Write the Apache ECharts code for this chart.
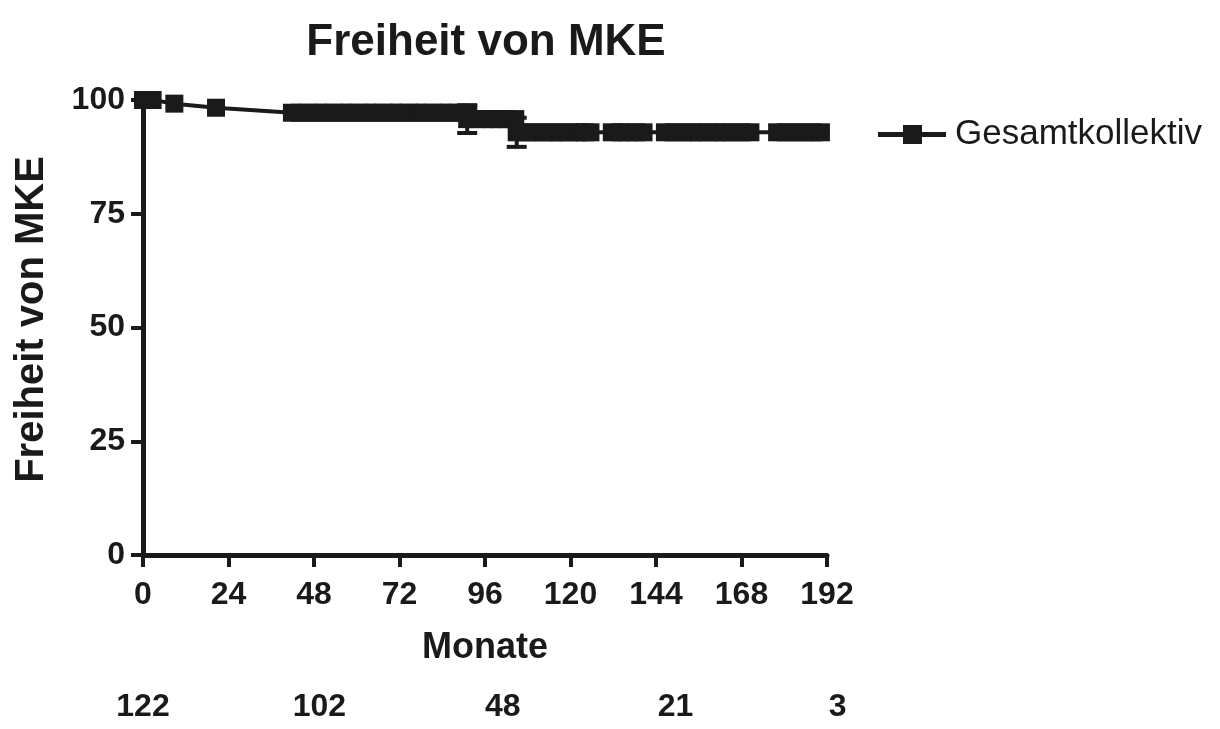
<!DOCTYPE html>
<html>
<head>
<meta charset="utf-8">
<script src="https://cdn.jsdelivr.net/npm/echarts@6/dist/echarts.min.js"></script>
<style>
html,body{margin:0;padding:0;background:#fff;}
#main{width:1220px;height:729px;}
</style>
</head>
<body>
<div id="main"></div>
<script>
// ---- data ----
const seriesName = 'Gesamtkollektiv';
const months = [0, 2.7, 8.8, 20.5, 41.8, 44, 46.5, 49, 51, 53.5, 56, 58, 60.5, 63, 65, 67.5, 70, 72, 74.5, 77, 79, 81.5, 84, 86, 88.5, 91.3,
  91, 93.5, 96, 98, 100, 102, 104.5,
  104.9, 107.7, 110, 112.5, 115, 117, 119.5, 122, 124, 125.6,
  131.6, 134, 136, 138.5, 140.5,
  146.5, 149, 151.5, 154, 156, 158.5, 161, 163, 165.5, 168, 170.5,
  178, 180.5, 183, 185.5, 188, 190.3];
const survival = [100, 100, 99.2, 98.3, 97.2, 97.2, 97.2, 97.2, 97.2, 97.2, 97.2, 97.2, 97.2, 97.2, 97.2, 97.2, 97.2, 97.2, 97.2, 97.2, 97.2, 97.2, 97.2, 97.2, 97.2, 97.2,
  95.8, 95.8, 95.8, 95.8, 95.8, 95.8, 95.8,
  92.9, 92.9, 92.9, 92.9, 92.9, 92.9, 92.9, 92.9, 92.9, 92.9,
  92.9, 92.9, 92.9, 92.9, 92.9,
  92.9, 92.9, 92.9, 92.9, 92.9, 92.9, 92.9, 92.9, 92.9, 92.9, 92.9,
  92.9, 92.9, 92.9, 92.9, 92.9, 92.9];
const errMonths = [91, 104.9];
const errLow = [92.75, 89.7];
const errHigh = [98.85, 96.1];
const xTicks = [0, 24, 48, 72, 96, 120, 144, 168, 192];
const atRiskMonths = [0, 49.5, 101, 149.5, 195];
const atRiskCounts = [122, 102, 48, 21, 3];

// ---- chart ----
const C = '#1a1a1a';
const FONT = "'Liberation Sans', Arial, Helvetica, sans-serif";
const chart = echarts.init(document.getElementById('main'), null, {renderer: 'canvas'});
const lineData = months.map((m, i) => [m, survival[i]]);
const errData = errMonths.map((m, i) => [m, errLow[i], errHigh[i]]);

chart.setOption({
  animation: false,
  backgroundColor: '#fff',
  title: {
    text: 'Freiheit von MKE',
    left: 481, top: 16, textAlign: 'center',
    textStyle: {fontFamily: FONT, fontWeight: 'bold', fontSize: 44, color: C}
  },
  legend: {
    left: 873, top: 112,
    itemWidth: 68, itemHeight: 19,
    icon: 'path://M0,7H25V0H44V7H68V12H44V19H25V12H0Z',
    itemStyle: {color: C},
    textStyle: {fontFamily: FONT, fontSize: 35, color: C, padding: [0, 0, 0, 4]},
    data: [seriesName]
  },
  grid: {left: 143, right: 393, top: 100, bottom: 174, containLabel: false},
  xAxis: {
    type: 'value', min: 0, max: 192, interval: 24,
    name: 'Monate', nameLocation: 'middle', nameGap: 75,
    nameTextStyle: {fontFamily: FONT, fontWeight: 'bold', fontSize: 36, color: C},
    axisLine: {lineStyle: {color: C, width: 5}},
    axisTick: {show: true, length: 12, lineStyle: {color: C, width: 4}},
    axisLabel: {fontFamily: FONT, fontWeight: 'bold', fontSize: 32, color: C, margin: 24,
      customValues: xTicks},
    splitLine: {show: false}
  },
  yAxis: {
    type: 'value', min: 0, max: 100, interval: 25,
    name: 'Freiheit von MKE', nameLocation: 'middle', nameGap: 91, nameRotate: 90,
    nameTextStyle: {fontFamily: FONT, fontWeight: 'bold', fontSize: 40, color: C, padding: [0, 0, 0, 16]},
    axisLine: {show: true, lineStyle: {color: C, width: 5}},
    axisTick: {show: true, length: 12, lineStyle: {color: C, width: 4}},
    axisLabel: {fontFamily: FONT, fontWeight: 'bold', fontSize: 32, color: C, margin: 18},
    splitLine: {show: false}
  },
  series: [
    {
      type: 'custom',
      name: 'err',
      z: 1,
      data: errData,
      renderItem: function (params, api) {
        const x = api.coord([api.value(0), 0])[0];
        const lo = api.coord([api.value(0), api.value(1)])[1];
        const hi = api.coord([api.value(0), api.value(2)])[1];
        const hw = 10;
        const st = {stroke: C, lineWidth: 4};
        return {
          type: 'group',
          children: [
            {type: 'line', shape: {x1: x, y1: lo, x2: x, y2: hi}, style: st},
            {type: 'line', shape: {x1: x - hw, y1: lo, x2: x + hw, y2: lo}, style: st},
            {type: 'line', shape: {x1: x - hw, y1: hi, x2: x + hw, y2: hi}, style: st}
          ]
        };
      }
    },
    {
      type: 'line',
      name: seriesName,
      z: 3,
      data: lineData,
      symbol: 'rect',
      symbolSize: 18,
      showAllSymbol: true,
      lineStyle: {color: C, width: 4},
      itemStyle: {color: C},
      clip: false
    }
  ]
});

const gs = atRiskMonths.map((m, i) => {
  const px = chart.convertToPixel({xAxisIndex: 0}, m);
  return {
    type: 'text', x: px, y: 707,
    style: {text: String(atRiskCounts[i]), font: "bold 32px " + FONT, fill: C, align: 'center', verticalAlign: 'middle'}
  };
});
chart.setOption({graphic: gs});
</script>
</body>
</html>
